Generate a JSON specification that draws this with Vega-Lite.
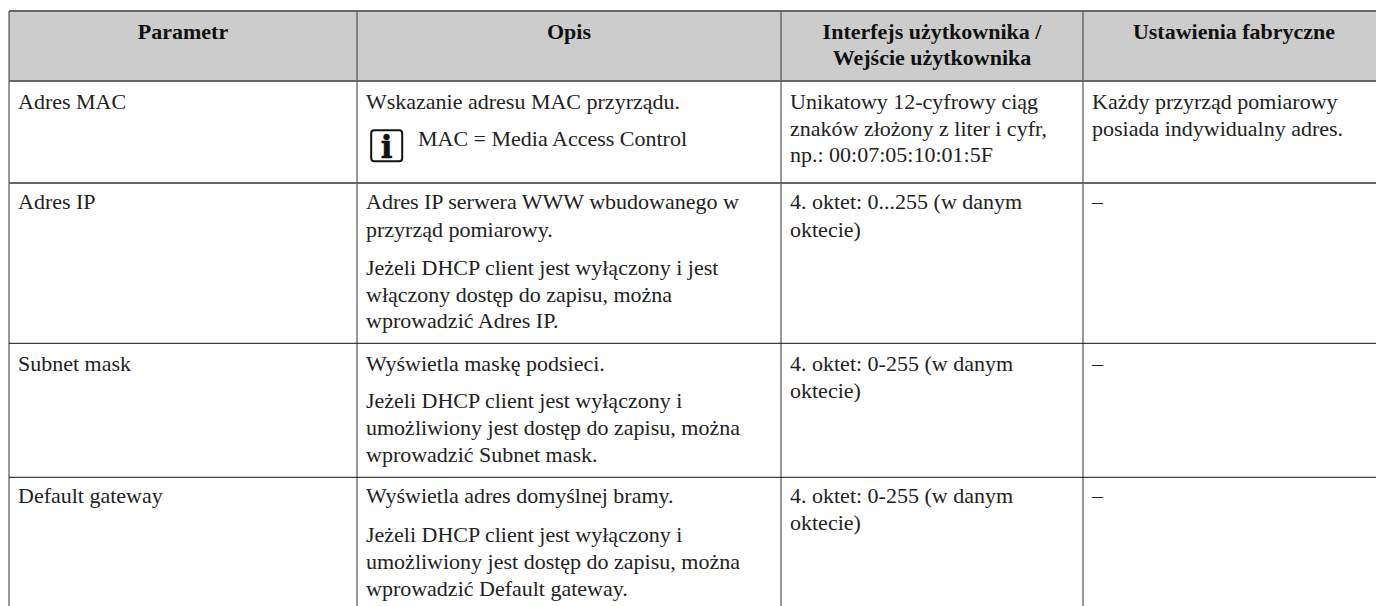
{"$schema":"https://vega.github.io/schema/vega-lite/v6.json","width":1376,"height":606,"autosize":{"type":"fit","contains":"padding"},"padding":0,"background":"#ffffff","view":{"stroke":null},
"config":{"axis":{"disable":true}},
"datasets":{"texts":[
{"col":0.5,"line":0,"kind":"head","text":"Parametr"},
{"col":1.5,"line":0,"kind":"head","text":"Opis"},
{"col":2.5,"line":0,"kind":"head","text":"Interfejs użytkownika /"},
{"col":2.5,"line":1,"kind":"head","text":"Wejście użytkownika"},
{"col":3.5,"line":0,"kind":"head","text":"Ustawienia fabryczne"},
{"col":0,"line":2,"kind":"body","text":"Adres MAC"},
{"col":1,"line":2,"kind":"body","text":"Wskazanie adresu MAC przyrządu."},
{"col":1,"line":3,"kind":"note","text":"MAC = Media Access Control"},
{"col":2,"line":2,"kind":"body","text":"Unikatowy 12-cyfrowy ciąg"},
{"col":2,"line":4,"kind":"body","text":"znaków złożony z liter i cyfr,"},
{"col":2,"line":5,"kind":"body","text":"np.: 00:07:05:10:01:5F"},
{"col":3,"line":2,"kind":"body","text":"Każdy przyrząd pomiarowy"},
{"col":3,"line":4,"kind":"body","text":"posiada indywidualny adres."},
{"col":0,"line":6,"kind":"body","text":"Adres IP"},
{"col":1,"line":6,"kind":"body","text":"Adres IP serwera WWW wbudowanego w"},
{"col":1,"line":7,"kind":"body","text":"przyrząd pomiarowy."},
{"col":1,"line":8,"kind":"body","text":"Jeżeli DHCP client jest wyłączony i jest"},
{"col":1,"line":9,"kind":"body","text":"włączony dostęp do zapisu, można"},
{"col":1,"line":10,"kind":"body","text":"wprowadzić Adres IP."},
{"col":2,"line":6,"kind":"body","text":"4. oktet: 0...255 (w danym"},
{"col":2,"line":7,"kind":"body","text":"oktecie)"},
{"col":3,"line":6,"kind":"body","text":"–"},
{"col":0,"line":11,"kind":"body","text":"Subnet mask"},
{"col":1,"line":11,"kind":"body","text":"Wyświetla maskę podsieci."},
{"col":1,"line":12,"kind":"body","text":"Jeżeli DHCP client jest wyłączony i"},
{"col":1,"line":13,"kind":"body","text":"umożliwiony jest dostęp do zapisu, można"},
{"col":1,"line":14,"kind":"body","text":"wprowadzić Subnet mask."},
{"col":2,"line":11,"kind":"body","text":"4. oktet: 0-255 (w danym"},
{"col":2,"line":15,"kind":"body","text":"oktecie)"},
{"col":3,"line":11,"kind":"body","text":"–"},
{"col":0,"line":16,"kind":"body","text":"Default gateway"},
{"col":1,"line":16,"kind":"body","text":"Wyświetla adres domyślnej bramy."},
{"col":1,"line":17,"kind":"body","text":"Jeżeli DHCP client jest wyłączony i"},
{"col":1,"line":18,"kind":"body","text":"umożliwiony jest dostęp do zapisu, można"},
{"col":1,"line":19,"kind":"body","text":"wprowadzić Default gateway."},
{"col":2,"line":16,"kind":"body","text":"4. oktet: 0-255 (w danym"},
{"col":2,"line":20,"kind":"body","text":"oktecie)"},
{"col":3,"line":16,"kind":"body","text":"–"}
]},
"layer":[
{"layer":[
{"data":{"values":[{"c0":0,"c1":4,"r0":0,"r1":1}]},"mark":{"type":"rect","fill":"#cccccc"},"encoding":{"x":{"field":"c0","type":"quantitative","scale":{"domain":[0,1,2,3,4],"range":[9,357,781,1083,1385]},"axis":null},"x2":{"field":"c1"},"y":{"field":"r0","type":"quantitative","scale":{"domain":[0,1,2,3,4,5],"range":[11,81,183,343.3,477.3,606]},"axis":null},"y2":{"field":"r1"}}},
{"data":{"values":[{"c":0,"r0":0,"r1":5},{"c":1,"r0":0,"r1":5},{"c":2,"r0":0,"r1":5},{"c":3,"r0":0,"r1":5}]},"mark":{"type":"rule","stroke":"#333333","strokeWidth":1},"encoding":{"x":{"field":"c","type":"quantitative"},"y":{"field":"r0","type":"quantitative"},"y2":{"field":"r1"}}},
{"data":{"values":[{"c0":0,"c1":4,"r":0},{"c0":0,"c1":4,"r":1},{"c0":0,"c1":4,"r":2}]},"mark":{"type":"rule","stroke":"#666666","strokeWidth":2},"encoding":{"x":{"field":"c0","type":"quantitative"},"x2":{"field":"c1"},"y":{"field":"r","type":"quantitative"}}},
{"data":{"values":[{"c0":0,"c1":4,"r":3},{"c0":0,"c1":4,"r":4}]},"mark":{"type":"rule","stroke":"#111111","strokeWidth":1},"encoding":{"x":{"field":"c0","type":"quantitative"},"x2":{"field":"c1"},"y":{"field":"r","type":"quantitative"}}}
]},
{"layer":[
{"data":{"name":"texts"},"transform":[{"filter":"datum.kind==='head'"}],"mark":{"type":"text","font":"Liberation Serif","fontSize":22,"fontWeight":"bold","align":"center","baseline":"alphabetic","fill":"#111111"},"encoding":{"x":{"field":"col","type":"quantitative"},"y":{"field":"line","type":"quantitative","scale":{"domain":[0,1,2,3,4,5,6,7,8,9,10,11,12,13,14,15,16,17,18,19,20],"range":[39,65,109,145.7,136,162,209,237,275,301.7,328.3,370.7,408.3,435,461.7,398,503.3,542.3,569,595.7,530]},"axis":null},"text":{"field":"text"}}},
{"data":{"name":"texts"},"transform":[{"filter":"datum.kind==='body'"}],"mark":{"type":"text","font":"Liberation Serif","fontSize":22,"align":"left","baseline":"alphabetic","xOffset":9,"fill":"#222222"},"encoding":{"x":{"field":"col","type":"quantitative"},"y":{"field":"line","type":"quantitative"},"text":{"field":"text"}}},
{"data":{"name":"texts"},"transform":[{"filter":"datum.kind==='note'"}],"mark":{"type":"text","font":"Liberation Serif","fontSize":22,"align":"left","baseline":"alphabetic","xOffset":61,"fill":"#222222"},"encoding":{"x":{"field":"col","type":"quantitative"},"y":{"field":"line","type":"quantitative"},"text":{"field":"text"}}},
{"data":{"values":[{"col":1,"line":3}]},"mark":{"type":"rect","width":31,"height":31,"cornerRadius":3,"fillOpacity":0,"stroke":"#111111","strokeWidth":2,"xOffset":29.7,"yOffset":0},"encoding":{"x":{"field":"col","type":"quantitative"},"y":{"field":"line","type":"quantitative"}}},
{"data":{"values":[{"col":1,"line":3,"text":"i"}]},"mark":{"type":"text","font":"DejaVu Serif","fontSize":31,"fontWeight":"bold","align":"center","baseline":"alphabetic","xOffset":29.7,"yOffset":12,"fill":"#111111","stroke":"#111111","strokeWidth":0.6},"encoding":{"x":{"field":"col","type":"quantitative"},"y":{"field":"line","type":"quantitative"},"text":{"field":"text"}}}
]}
],"resolve":{"scale":{"y":"independent"}}}
